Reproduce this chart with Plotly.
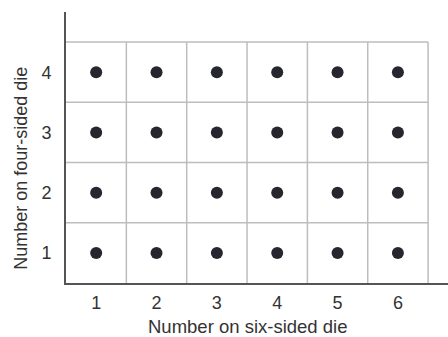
import plotly.graph_objects as go

# Outcomes of rolling a six-sided die and a four-sided die
six_sided = [1, 2, 3, 4, 5, 6]
four_sided = [1, 2, 3, 4]

xs = [a for b in four_sided for a in six_sided]
ys = [b for b in four_sided for a in six_sided]

FONT = "Liberation Sans, Arial, sans-serif"
GRID = "#bdbdbd"
AXIS = "#555555"
TEXT = "#333333"

fig = go.Figure()

# cell borders around each outcome
x_lo, x_hi = six_sided[0] - 0.5, six_sided[-1] + 0.5
y_lo, y_hi = four_sided[0] - 0.5, four_sided[-1] + 0.5
for v in six_sided:
    fig.add_shape(type="line", x0=v + 0.5, x1=v + 0.5, y0=y_lo, y1=y_hi,
                  line=dict(color=GRID, width=1.5), layer="below")
for v in four_sided:
    fig.add_shape(type="line", x0=x_lo, x1=x_hi, y0=v + 0.5, y1=v + 0.5,
                  line=dict(color=GRID, width=1.5), layer="below")

fig.add_trace(go.Scatter(
    x=xs, y=ys, mode="markers",
    marker=dict(size=12, color="#26262e"),
    hoverinfo="skip", showlegend=False,
))

fig.update_layout(
    width=448, height=337,
    margin=dict(l=66, r=0, t=12, b=54),
    paper_bgcolor="white", plot_bgcolor="white",
    font=dict(family=FONT, size=18, color=TEXT),
    xaxis=dict(
        range=[0.5, 6.83], tickvals=six_sided, ticktext=[str(v) for v in six_sided],
        tickfont=dict(family=FONT, size=18, color=TEXT),
        showgrid=False, zeroline=False, showline=True, linecolor=AXIS, linewidth=2,
        ticks="", ticklabelstandoff=2,
    ),
    yaxis=dict(
        range=[0.5, 5.0], tickvals=four_sided, ticktext=[str(v) for v in four_sided],
        tickfont=dict(family=FONT, size=18, color=TEXT),
        showgrid=False, zeroline=False, showline=True, linecolor=AXIS, linewidth=2,
        ticks="", ticklabelstandoff=9,
    ),
    annotations=[
        dict(text="Number on six-sided die", x=3.5, xref="x", y=-0.162, yref="paper",
             yanchor="middle", xanchor="center", showarrow=False,
             font=dict(family=FONT, size=18.5, color=TEXT)),
        dict(text="Number on four-sided die", x=-0.12, xref="paper",
             y=2.4, yref="y", textangle=-90, xanchor="center", yanchor="middle",
             showarrow=False, font=dict(family=FONT, size=18, color=TEXT)),
    ],
)

fig.write_html("out.html")
